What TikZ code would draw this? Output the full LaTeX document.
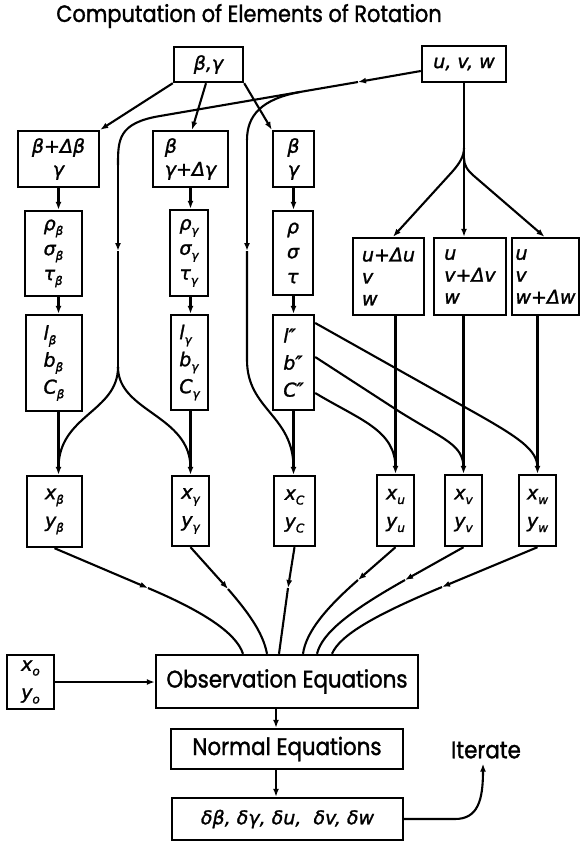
\documentclass[tikz,border=0pt]{standalone}
\usepackage{fontspec}
\setmainfont{Poppins}[FakeStretch=0.89, FakeBold=1.4]
\newfontfamily\slfont{DejaVu Sans Oblique}[FakeBold=1.4]
\usetikzlibrary{arrows.meta}
% lowered, smaller index letter
\newcommand\lowr[1]{\raisebox{-0.45ex}{\fontsize{12}{12}\selectfont #1}}
\begin{document}
\begin{tikzpicture}[x=1pt,y=-1pt,
  box/.style={draw, line width=2.4pt, inner sep=0pt, align=left,
              font=\slfont\fontsize{19}{#1}\selectfont},
  box/.default=23,
  panel/.style={draw, line width=2.4pt, inner sep=0pt, font=\fontsize{24}{28}\selectfont},
  word/.style={inner sep=0pt, font=\fontsize{24}{28}\selectfont},
  con/.style={line width=2.1pt},
  arr/.style={con, -{Latex[length=8pt,width=6pt]}},
]
\useasboundingbox[fill=white] (0,0) rectangle (581,841);

\node[word, font=\fontsize{23.5}{26}\selectfont] (title) at (249,16) {Computation of Elements of Rotation};

% starting values
\node[box, minimum width=69pt, minimum height=35pt] (bg) at (208.5,64.5) {β,γ};
\node[box, minimum width=84pt, minimum height=36pt] (uvw) at (464,64) {u, v, w};

% perturbed angle sets
\node[box, align=center, minimum width=81pt, minimum height=56pt] (b1) at (58.5,159) {β+Δβ\\γ};
\node[box, minimum width=75pt, minimum height=56pt] (b2) at (190.5,159) {β\\γ+Δγ};
\node[box, align=center, minimum width=41pt, minimum height=56pt] (b3) at (293.5,159) {β\\γ};

\node[box=25, minimum width=57pt, minimum height=85pt] (r1) at (53.5,253.5) {ρ\lowr{β}\\σ\lowr{β}\\τ\lowr{β}};
\node[box=25, minimum width=38pt, minimum height=86pt] (r2) at (189,253) {ρ\lowr{γ}\\σ\lowr{γ}\\τ\lowr{γ}};
\node[box=25, minimum width=40pt, minimum height=84pt] (r3) at (293,253) {ρ\\σ\\τ};

\node[box=27, minimum width=56pt, minimum height=96pt] (l1) at (54,363) {l\lowr{β}\\b\lowr{β}\\C\lowr{β}};
\node[box=27, minimum width=37pt, minimum height=95pt] (l2) at (189.5,362.5) {l\lowr{γ}\\b\lowr{γ}\\C\lowr{γ}};
\node[box=27, minimum width=41pt, minimum height=95pt] (l3) at (293.5,362.5) {l″\\b″\\C″};

% perturbed translations
\node[box=22, minimum width=71pt, minimum height=77pt] (d1) at (388.5,276.5) {u+Δu\\v\\w};
\node[box=22, minimum width=72pt, minimum height=77pt] (d2) at (470,276.5) {u\\v+Δv\\w};
\node[box=22, minimum width=67pt, minimum height=77pt] (d3) at (545.5,276.5) {u\\v\\w+Δw};

% computed image coordinates
\node[box=28, minimum width=55pt, minimum height=71pt] (xb) at (54.5,511.5) {x\lowr{β}\\y\lowr{β}};
\node[box=28, minimum width=37pt, minimum height=70pt] (xg) at (190.5,511) {x\lowr{γ}\\y\lowr{γ}};
\node[box=28, minimum width=41pt, minimum height=70pt] (xc) at (294.5,511) {x\lowr{C}\\y\lowr{C}};
\node[box=28, minimum width=37pt, minimum height=71pt] (xu) at (395.5,510.5) {x\lowr{u}\\y\lowr{u}};
\node[box=28, minimum width=37pt, minimum height=71pt] (xv) at (463.5,510.5) {x\lowr{v}\\y\lowr{v}};
\node[box=28, minimum width=37pt, minimum height=71pt] (xw) at (537.5,510.5) {x\lowr{w}\\y\lowr{w}};
\node[box=28, minimum width=47pt, minimum height=54pt] (xo) at (30.5,682) {x\lowr{o}\\y\lowr{o}};

% solution chain
\node[panel, minimum width=262pt, minimum height=53pt] (obs) at (287,681.5) {Observation Equations};
\node[panel, minimum width=232pt, minimum height=40pt] (norm) at (287,749) {Normal Equations};
\node[box, minimum width=231pt, minimum height=42pt] (delta) at (287.5,819) {δβ, δγ, δu,\ \ δv, δw};
\node[word] (iter) at (486,750) {Iterate};

% waypoints
\coordinate (mA) at (358,82);
\coordinate (k1) at (160,116);
\coordinate (j2) at (300,92);
\coordinate (a1) at (118,251);
\coordinate (s1) at (118,367);
\coordinate (a2) at (247,251);
\coordinate (s2) at (247,360);
\coordinate (e1) at (58.5,468);
\coordinate (e2) at (190.5,468);
\coordinate (e3) at (293.5,468);

% from beta,gamma
\draw[arr] (bg.south west) -- (b1.north east);
\draw[arr] ([xshift=-2.5pt]bg.south) -- ([xshift=1.5pt]b2.north);
\draw[arr] (bg.south east) -- (b3.north west);

% vertical chains
\draw[arr] (b1.south) -- (b1.south |- r1.north);
\draw[arr] (b1.south |- r1.south) -- (b1.south |- l1.north);
\draw[arr] (b1.south |- l1.south) -- (b1.south |- xb.north);
\draw[arr] (b2.south) -- (b2.south |- r2.north);
\draw[arr] (b2.south |- r2.south) -- (b2.south |- l2.north);
\draw[arr] (b2.south |- l2.south) -- (b2.south |- xg.north);
\draw[arr] (b3.south) -- (b3.south |- r3.north);
\draw[arr] (b3.south |- r3.south) -- (b3.south |- l3.north);
\draw[arr] (b3.south |- l3.south) -- (b3.south |- xc.north);

% u,v,w feed to the angle columns
\draw[arr] ([yshift=-7pt]uvw.west) -- (mA);
\draw[con] (mA) -- (k1) .. controls (118,123) and (118,140) .. (118,165);
\draw[arr] (118,165) -- (a1);
\draw[con] (a1) -- (s1);
\draw[con] (s1) .. controls (118,412) and (58.5,415) .. (e1);
\draw[con] (s1) .. controls (118,412) and (190.5,415) .. (e2);
\draw[con] (j2) .. controls (262,99) and (247,115) .. (247,140);
\draw[arr] (247,140) -- (a2);
\draw[con] (a2) -- (s2) .. controls (247,410) and (293.5,415) .. (e3);

% u,v,w fork
\draw[arr] (uvw.south) -- (uvw.south |- d2.north);
\draw[arr] (464,148) .. controls (464,156) and (460,163) .. (452,172) -- ([xshift=4.5pt]d1.north);
\draw[arr] (464,158) .. controls (464,165) and (467,170) .. (474,176) -- ([xshift=-1pt]d3.north);
\draw[arr] (xu.north |- d1.south) -- (xu.north);
\draw[arr] (xv.north |- d2.south) -- (xv.north);
\draw[arr] (xw.north |- d3.south) -- (xw.north);

% l'', b'', C'' to translated columns
\draw[con] ([yshift=39.5pt]l3.east) -- (470,410) .. controls (520,438) and (537.5,450) .. (537.5,468);
\draw[con] ([yshift=5.5pt]l3.east) -- (400,412) .. controls (445,440) and (463.5,445) .. (463.5,468);
\draw[con] ([yshift=-30.5pt]l3.east) .. controls (360,420) and (395.5,430) .. (395.5,468);

% into the observation equations
\draw[arr] (xb.south) -- (148,588);
\draw[con] (148,588) .. controls (200,610) and (236,632) .. ([xshift=-44pt]obs.north);
\draw[arr] (xg.south) -- (228,589);
\draw[con] (228,589) .. controls (247,611) and (263,632) .. ([xshift=-20pt]obs.north);
\draw[arr] (xc.south) -- (288,588);
\draw[con] (288,588) -- ([xshift=-8pt]obs.north);
\draw[arr] (xu.south) -- (358,580);
\draw[con] (358,580) .. controls (326,608) and (306,632) .. ([xshift=16pt]obs.north);
\draw[arr] (xv.south) -- (405,580);
\draw[con] (405,580) .. controls (350,611) and (322,633) .. ([xshift=30pt]obs.north);
\draw[arr] (xw.south) -- (442,587);
\draw[con] (442,587) .. controls (375,615) and (340,635) .. ([xshift=45pt]obs.north);

\draw[arr] (xo.east) -- (xo.east -| obs.west);
\draw[arr] ([xshift=-11pt]obs.south) -- ([xshift=-11pt]obs.south |- norm.north);
\draw[arr] ([xshift=-11pt]norm.south) -- ([xshift=-11pt]norm.south |- delta.north);
\draw[arr] (delta.east) -- (455,819) .. controls (478,819) and (483,800) .. ([xshift=-3pt,yshift=-5pt]iter.south);
\end{tikzpicture}
\end{document}
